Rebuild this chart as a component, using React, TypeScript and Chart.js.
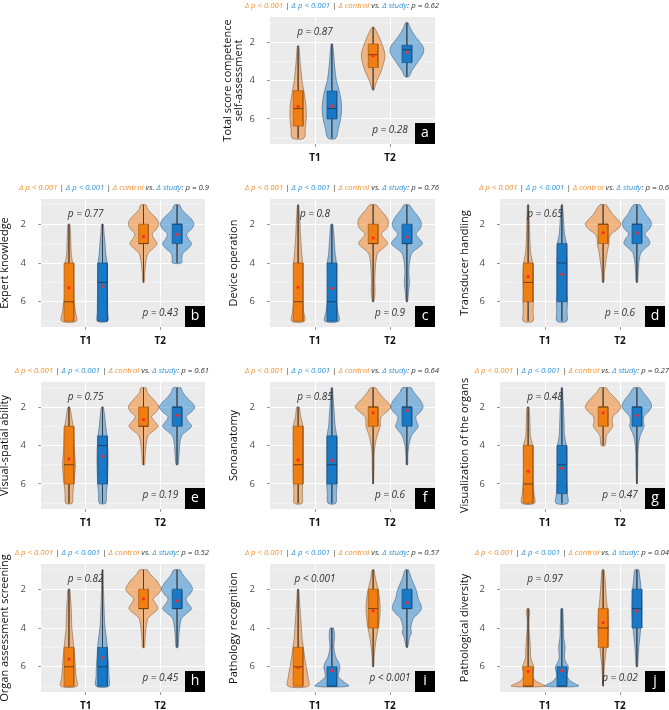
import React, { useEffect, useRef } from 'react';
import { Chart, registerables } from 'chart.js';

Chart.register(...registerables);

const FONT = "'Open Sans', 'DejaVu Sans', sans-serif";
Chart.defaults.font.family = FONT;

// ---------- data ----------
const X_LABELS = ['T1', 'T2'];
const Y_MAJOR = [2, 4, 6];
const Y_MINOR = [1, 3, 5, 7];

const PANEL_IDS = ['a', 'b', 'c', 'd', 'e', 'f', 'g', 'h', 'i', 'j'];
const Y_TITLES: (string | string[])[] = [
  ['Total score competence', 'self-assessment'],
  'Expert knowledge',
  'Device operation',
  'Transducer handling',
  'Visual-spatial ability',
  'Sonoanatomy',
  'Visualization of the organs',
  'Organ assessment screening',
  'Pathology recognition',
  'Pathological diversity',
];
const HEAD_CTRL_P = ['< 0.001', '< 0.001', '< 0.001', '< 0.001', '< 0.001', '< 0.001', '< 0.001', '< 0.001', '< 0.001', '< 0.001'];
const HEAD_STUDY_P = ['< 0.001', '< 0.001', '< 0.001', '< 0.001', '< 0.001', '< 0.001', '< 0.001', '< 0.001', '< 0.001', '< 0.001'];
const HEAD_DIFF_P = ['0.62', '0.9', '0.76', '0.6', '0.61', '0.64', '0.27', '0.52', '0.57', '0.04'];
const T1_P = ['p = 0.87', 'p = 0.77', 'p = 0.8', 'p = 0.65', 'p = 0.75', 'p = 0.85', 'p = 0.48', 'p = 0.82', 'p < 0.001', 'p = 0.97'];
const T2_P = ['p = 0.28', 'p = 0.43', 'p = 0.9', 'p = 0.6', 'p = 0.19', 'p = 0.6', 'p = 0.47', 'p = 0.45', 'p < 0.001', 'p = 0.02'];

// violin profiles: [score, density width]; O = control (orange), B = study (blue)
const A_OT1 = [[2.2, 2], [2.5, 4], [3, 6], [3.5, 9], [4, 12], [4.5, 17], [5, 22], [5.5, 25], [6, 25], [6.5, 22], [7, 18]];
const A_BT1 = [[2.1, 2], [2.5, 5], [3, 7], [3.5, 10], [4, 14], [4.5, 22], [5, 28], [5.5, 30], [6, 27], [6.5, 20], [7, 12]];
const A_OT2 = [[1.23, 3], [1.5, 12], [2, 25], [2.5, 35], [2.8, 36], [3, 34], [3.5, 25], [4, 12], [4.3, 6], [4.5, 2]];
const A_BT2 = [[1.0, 4], [1.25, 10], [1.5, 18], [1.75, 28], [2, 40], [2.25, 50], [2.5, 52], [2.75, 45], [3, 35], [3.25, 25], [3.5, 15], [3.8, 6]];
const A_BOX = [[4.53, 5.46, 6.37, 5.34], [4.55, 5.46, 6.0, 5.32], [2.1, 2.66, 3.33, 2.72], [2.17, 2.4, 3.07, 2.54]];

const B_OT1 = [[2, 3], [2.5, 5], [3, 6], [3.5, 7], [4, 11], [4.5, 12], [5, 9], [5.5, 10], [6, 16], [6.5, 20], [7, 23]];
const B_BT1 = [[2, 3], [2.5, 5], [3, 8], [3.5, 10], [4, 14], [4.5, 15], [5, 15], [5.5, 15], [6, 16], [6.5, 16], [7, 16]];
const B_OT2 = [[1, 8], [1.25, 14], [1.5, 28], [1.75, 42], [2, 47], [2.25, 40], [2.5, 27], [2.75, 33], [3, 42], [3.25, 30], [3.5, 14], [4, 7], [4.5, 4], [5, 2]];
const B_BT2 = [[1, 8], [1.25, 15], [1.5, 30], [1.75, 45], [2, 52], [2.25, 45], [2.5, 30], [2.75, 35], [3, 45], [3.25, 35], [3.5, 18], [3.75, 15], [4, 14]];
const B_BOX = [[4, 6, 7, 5.28], [4, 5, 7, 5.2], [2, 3, 3, 2.64], [2, 2, 3, 2.52]];

const C_OT1 = [[1, 2], [1.5, 4], [2, 6], [2.5, 7], [3, 9], [3.5, 11], [4, 14], [4.5, 13], [5, 12], [5.5, 12], [6, 14], [6.5, 17], [7, 20]];
const C_BT1 = [[2, 3], [2.5, 6], [3, 8], [3.5, 10], [4, 14], [4.5, 13], [5, 12], [5.5, 12], [6, 14], [6.5, 18], [7, 22]];
const C_OT2 = [[1, 10], [1.25, 22], [1.5, 35], [1.75, 45], [2, 47], [2.25, 40], [2.5, 25], [2.75, 35], [3, 45], [3.25, 30], [3.5, 14], [4, 8], [4.5, 6], [5, 5], [5.5, 6], [6, 2]];
const C_BT2 = [[1, 8], [1.25, 18], [1.5, 30], [1.75, 40], [2, 45], [2.25, 40], [2.5, 28], [2.75, 38], [3, 48], [3.25, 32], [3.5, 15], [4, 8], [4.5, 6], [5, 8], [5.5, 5], [6, 2]];
const C_BOX = [[4, 6, 7, 5.25], [4, 6, 7, 5.31], [2, 3, 3, 2.71], [2, 3, 3, 2.66]];

const D_OT1 = [[1, 2], [2, 4], [3, 6], [3.5, 8], [4, 14], [4.5, 16], [5, 16], [5.5, 15], [6, 16], [6.5, 15], [7, 15]];
const D_BT1 = [[1, 2], [1.5, 4], [2, 6], [2.5, 8], [3, 14], [3.5, 15], [4, 16], [4.5, 16], [5, 16], [5.5, 16], [6, 17], [6.5, 16], [7, 15]];
const D_OT2 = [[1, 10], [1.5, 30], [1.75, 45], [2, 55], [2.25, 45], [2.5, 25], [2.75, 18], [3, 18], [3.25, 15], [3.5, 12], [4, 8], [4.5, 4], [5, 2]];
const D_BT2 = [[1, 10], [1.5, 28], [1.75, 40], [2, 45], [2.25, 38], [2.5, 25], [2.75, 35], [3, 40], [3.25, 25], [3.5, 12], [4, 6], [4.5, 4], [5, 2]];
const D_BOX = [[4, 5, 6, 4.7], [3, 4, 6, 4.58], [2, 2, 3, 2.43], [2, 2, 3, 2.45]];

const E_OT1 = [[2, 3], [2.5, 8], [3, 13], [3.5, 15], [4, 16], [4.5, 18], [5, 20], [5.5, 18], [6, 15], [6.5, 12], [7, 10]];
const E_BT1 = [[2, 3], [2.5, 7], [3, 10], [3.5, 14], [4, 16], [4.5, 17], [5, 17], [5.5, 16], [6, 15], [6.5, 12], [7, 10]];
const E_OT2 = [[1, 8], [1.25, 12], [1.5, 25], [1.75, 38], [2, 47], [2.25, 40], [2.5, 25], [2.75, 35], [3, 45], [3.25, 30], [3.5, 14], [4, 8], [4.5, 5], [5, 3]];
const E_BT2 = [[1, 12], [1.25, 18], [1.5, 30], [1.75, 45], [2, 55], [2.25, 45], [2.5, 28], [2.75, 35], [3, 45], [3.25, 30], [3.5, 14], [4, 8], [4.5, 6], [5, 3]];
const E_BOX = [[3, 5, 6, 4.7], [3.5, 4, 6, 4.57], [2, 3, 3, 2.66], [2, 2, 3, 2.43]];

const F_OT1 = [[2, 4], [2.5, 8], [3, 15], [3.5, 15], [4, 15], [4.5, 15], [5, 15], [5.5, 15], [6, 14], [6.5, 13], [7, 12]];
const F_BT1 = [[1, 2], [1.5, 4], [2, 6], [2.5, 8], [3, 10], [3.5, 15], [4, 16], [4.5, 16], [5, 16], [5.5, 16], [6, 16], [6.5, 14], [7, 12]];
const F_OT2 = [[1, 8], [1.25, 18], [1.5, 30], [1.75, 45], [2, 55], [2.25, 42], [2.5, 25], [2.75, 22], [3, 22], [3.5, 12], [4, 6], [4.5, 3], [5, 3], [5.5, 2], [6, 1]];
const F_BT2 = [[1, 14], [1.25, 22], [1.5, 35], [1.75, 45], [2, 50], [2.25, 42], [2.5, 28], [2.75, 30], [3, 35], [3.25, 25], [3.5, 14], [4, 6], [4.5, 3], [5, 2]];
const F_BOX = [[3, 5, 6, 4.75], [3.5, 5, 6, 4.78], [2, 2, 3, 2.3], [2, 2, 3, 2.17]];

const G_OT1 = [[2, 3], [2.5, 5], [3, 6], [3.5, 7], [4, 14], [4.5, 14], [5, 12], [5.5, 13], [6, 15], [6.5, 18], [7, 20]];
const G_BT1 = [[1, 2], [1.5, 3], [2, 5], [2.5, 6], [3, 7], [3.5, 8], [4, 14], [4.5, 15], [5, 15], [5.5, 15], [6, 16], [6.5, 17], [7, 18]];
const G_OT2 = [[1, 10], [1.25, 20], [1.5, 35], [1.75, 48], [2, 55], [2.25, 45], [2.5, 30], [2.75, 28], [3, 30], [3.25, 20], [3.5, 10], [4, 6]];
const G_BT2 = [[1, 10], [1.25, 20], [1.5, 32], [1.75, 42], [2, 45], [2.25, 35], [2.5, 22], [2.75, 20], [3, 22], [3.5, 10], [4, 5], [4.5, 3], [5, 3], [5.5, 2], [6, 1]];
const G_BOX = [[4, 6, 7, 5.34], [4, 5, 6.5, 5.18], [2, 2, 3, 2.3], [2, 2, 3, 2.43]];

const H_OT1 = [[2, 3], [2.5, 5], [3, 7], [3.5, 8], [4, 9], [4.5, 12], [5, 15], [5.5, 18], [6, 20], [6.5, 22], [7, 25]];
const H_BT1 = [[1, 2], [2, 3], [3, 5], [3.5, 6], [4, 8], [4.5, 12], [5, 15], [5.5, 17], [6, 19], [6.5, 20], [7, 20]];
const H_OT2 = [[1, 12], [1.25, 22], [1.5, 38], [1.75, 48], [2, 55], [2.25, 45], [2.5, 30], [2.75, 38], [3, 45], [3.25, 30], [3.5, 14], [4, 8], [4.5, 5], [5, 3]];
const H_BT2 = [[1, 10], [1.25, 18], [1.5, 30], [1.75, 42], [2, 48], [2.25, 40], [2.5, 28], [2.75, 35], [3, 45], [3.25, 30], [3.5, 14], [4, 8], [4.5, 5], [5, 3]];
const H_BOX = [[5, 6, 7, 5.6], [5, 6, 7, 5.53], [2, 3, 3, 2.5], [2, 3, 3, 2.6]];

const I_OT1 = [[2, 2], [2.5, 4], [3, 6], [3.5, 8], [4, 10], [4.5, 12], [5, 16], [5.5, 20], [6, 25], [6.5, 30], [7, 32]];
const I_BT1 = [[4, 5], [4.25, 8], [4.5, 8], [5, 6], [5.5, 12], [5.75, 20], [6, 25], [6.25, 22], [6.5, 20], [6.75, 35], [7, 52]];
const I_OT2 = [[1, 3], [1.5, 8], [2, 15], [2.5, 20], [3, 22], [3.5, 20], [4, 16], [4.5, 10], [5, 6], [5.5, 3], [6, 2]];
const I_BT2 = [[1, 5], [1.5, 15], [2, 28], [2.5, 35], [2.75, 42], [3, 45], [3.25, 35], [3.5, 20], [4, 12], [4.25, 14], [4.5, 8], [5, 2]];
const I_BOX = [[5, 6, 7, 6.05], [6, 7, 7, 6.2], [2, 3, 4, 3.12], [2, 3, 3, 2.69]];

const J_OT1 = [[3, 3], [3.25, 5], [3.5, 3], [4, 3], [4.5, 5], [5, 7], [5.5, 8], [5.75, 12], [6, 18], [6.25, 15], [6.5, 14], [6.75, 25], [7, 52]];
const J_BT1 = [[3, 3], [3.5, 4], [4, 5], [4.5, 6], [5, 10], [5.5, 8], [5.75, 12], [6, 20], [6.25, 18], [6.5, 16], [6.75, 28], [7, 52]];
const J_OT2 = [[1, 3], [1.5, 6], [2, 8], [2.5, 10], [3, 13], [3.5, 15], [4, 16], [4.5, 14], [5, 10], [5.5, 7], [6, 4], [6.5, 2], [7, 1]];
const J_BT2 = [[1, 6], [1.5, 10], [2, 13], [2.5, 14], [3, 15], [3.5, 14], [4, 12], [4.5, 9], [5, 6], [5.5, 4], [6, 2]];
const J_BOX = [[6, 7, 7, 6.24], [6, 7, 7, 6.2], [3, 4, 5, 3.72], [2, 3, 4, 3.12]];

const VIOLINS = [
  [A_OT1, A_BT1, A_OT2, A_BT2], [B_OT1, B_BT1, B_OT2, B_BT2], [C_OT1, C_BT1, C_OT2, C_BT2],
  [D_OT1, D_BT1, D_OT2, D_BT2], [E_OT1, E_BT1, E_OT2, E_BT2], [F_OT1, F_BT1, F_OT2, F_BT2],
  [G_OT1, G_BT1, G_OT2, G_BT2], [H_OT1, H_BT1, H_OT2, H_BT2], [I_OT1, I_BT1, I_OT2, I_BT2],
  [J_OT1, J_BT1, J_OT2, J_BT2],
];
const BOXES = [A_BOX, B_BOX, C_BOX, D_BOX, E_BOX, F_BOX, G_BOX, H_BOX, I_BOX, J_BOX];

// ---------- layout / style ----------
const W_UNIT = 1 / 231; // density width -> x units
const DODGE = [-0.225, 0.225];
const BOX_HALF = 0.065;
const P_TEXT_Y = [1.47, 6.57];

const PANEL_COL = [1, 0, 1, 2, 0, 1, 2, 0, 1, 2];
const PANEL_ROW = [0, 1, 1, 1, 2, 2, 2, 3, 3, 3];
const COL_L = [41, 270, 500];
const COL_R = [209, 439, 669];
const COL_CX = [0, 222, 446];
const ROW_T = [17, 199, 382, 564];
const ROW_B = [144, 327, 509, 692];
const YTITLE_PAD = [1, 0, 6.5, 13.5, 0, 6.5, 13.5, 0, 6.5, 13.5];
const PT = 22;
const XH = 22;

const ORANGE_TXT = '#F2912E';
const BLUE_TXT = '#2F93DA';
const DARK_TXT = '#333333';
const VIO_FILL = ['rgba(242,128,28,0.5)', 'rgba(35,132,208,0.5)'];
const VIO_LINE = ['rgba(120,85,55,0.75)', 'rgba(55,85,115,0.75)'];
const BOX_FILL = ['#F07E10', '#1879C6'];
const BOX_LINE = ['#A35A17', '#1D5283'];
const MED_LINE = ['#6B3A10', '#173F63'];
const WHISK = 'rgba(55,55,55,0.85)';
const MEAN_COL = '#FF2B2B';

function buildDatasets(idx: number) {
  const ds: any[] = [];
  VIOLINS[idx].forEach((prof: number[][], k: number) => {
    const g = k % 2;
    const t = Math.floor(k / 2) + 1;
    const cx = t + DODGE[g];
    const right = prof.map(([y, w]) => ({ x: cx + w * W_UNIT, y }));
    const left = prof.slice().reverse().map(([y, w]) => ({ x: cx - w * W_UNIT, y }));
    ds.push({
      data: [...right, ...left, right[0]], fill: 'shape', backgroundColor: VIO_FILL[g],
      borderColor: VIO_LINE[g], borderWidth: 0.7, pointRadius: 0, tension: 0.3, order: 5,
    });
    ds.push({
      data: [{ x: cx, y: prof[0][0] }, { x: cx, y: prof[prof.length - 1][0] }],
      borderColor: WHISK, borderWidth: 0.7, pointRadius: 0, fill: false, order: 4,
    });
    const [q1, med, q3, mean] = BOXES[idx][k];
    ds.push({
      data: [
        { x: cx - BOX_HALF, y: q1 }, { x: cx + BOX_HALF, y: q1 }, { x: cx + BOX_HALF, y: q3 },
        { x: cx - BOX_HALF, y: q3 }, { x: cx - BOX_HALF, y: q1 },
      ],
      fill: 'shape', backgroundColor: BOX_FILL[g], borderColor: BOX_LINE[g], borderWidth: 0.7,
      pointRadius: 0, tension: 0, order: 3,
    });
    ds.push({
      data: [{ x: cx - BOX_HALF, y: med }, { x: cx + BOX_HALF, y: med }],
      borderColor: MED_LINE[g], borderWidth: 0.9, pointRadius: 0, fill: false, order: 2,
    });
    ds.push({
      data: [{ x: cx, y: mean }], showLine: false, pointRadius: 1.6, pointBackgroundColor: MEAN_COL,
      pointBorderWidth: 0, order: 1,
    });
  });
  return ds;
}

const bgPlugin = {
  id: 'panelBg',
  beforeDraw(chart: any) {
    const { ctx, chartArea: a } = chart;
    ctx.save();
    ctx.fillStyle = '#EBEBEB';
    ctx.fillRect(a.left, a.top, a.right - a.left, a.bottom - a.top);
    ctx.restore();
  },
};

function makeAnnot(idx: number) {
  return {
    id: 'annot',
    afterDatasetsDraw(chart: any) {
      const { ctx, chartArea: a, scales } = chart;
      ctx.save();
      ctx.font = `italic 10px ${FONT}`;
      ctx.fillStyle = DARK_TXT;
      ctx.textAlign = 'center';
      ctx.textBaseline = 'middle';
      ctx.fillText(T1_P[idx], scales.x.getPixelForValue(1), scales.y.getPixelForValue(P_TEXT_Y[0]));
      ctx.fillText(T2_P[idx], scales.x.getPixelForValue(2), scales.y.getPixelForValue(P_TEXT_Y[1]));
      ctx.fillStyle = '#000';
      ctx.fillRect(a.right - 20, a.bottom - 21, 20, 21);
      ctx.fillStyle = '#fff';
      ctx.font = `14px ${FONT}`;
      ctx.fillText(PANEL_IDS[idx], a.right - 10, a.bottom - 11);
      ctx.restore();
    },
  };
}

function Panel({ idx }: { idx: number }) {
  const ref = useRef<HTMLCanvasElement | null>(null);
  const col = PANEL_COL[idx];
  const row = PANEL_ROW[idx];
  const L = COL_L[col], R = COL_R[col], cxp = COL_CX[col];
  const T = ROW_T[row], B = ROW_B[row];
  const width = R - cxp;
  const height = PT + (B - T) + XH;
  const YW = L - cxp;

  useEffect(() => {
    const chart = new Chart(ref.current as HTMLCanvasElement, {
      type: 'line',
      data: { datasets: buildDatasets(idx) },
      options: {
        animation: false,
        responsive: false,
        events: [],
        layout: { padding: { top: PT, right: 0, left: 0, bottom: 0 } },
        plugins: { legend: { display: false }, tooltip: { enabled: false }, title: { display: false } },
        scales: {
          x: {
            type: 'linear', min: 0.4, max: 2.6, bounds: 'data',
            afterBuildTicks: (s: any) => { s.ticks = X_LABELS.map((_, i) => ({ value: i + 1 })); },
            afterFit: (s: any) => { s.height = XH; },
            ticks: {
              autoSkip: false, maxRotation: 0, padding: 5, color: '#111111',
              font: { size: 10, weight: 'bold' },
              callback: (v: any) => X_LABELS[Math.round(v) - 1],
            },
            grid: { color: '#FFFFFF', lineWidth: 1, tickLength: 3, tickColor: '#555', tickWidth: 0.6 },
            border: { display: false },
          },
          y: {
            type: 'linear', reverse: true, min: 0.7, max: 7.3, bounds: 'data',
            afterBuildTicks: (s: any) => {
              s.ticks = [...Y_MINOR, ...Y_MAJOR].sort((p, q) => p - q).map((v) => ({ value: v }));
            },
            afterFit: (s: any) => { s.width = YW; },
            ticks: {
              autoSkip: false, padding: 12, color: '#4D4D4D', font: { size: 9.5 },
              callback: (v: any) => (Y_MAJOR.includes(v) ? String(v) : ''),
            },
            grid: {
              color: (c: any) => (c.tick && Y_MAJOR.includes(c.tick.value) ? '#FFFFFF' : 'rgba(255,255,255,0.75)'),
              lineWidth: (c: any) => (c.tick && Y_MAJOR.includes(c.tick.value) ? 1 : 0.5),
              tickLength: 3,
              tickColor: (c: any) => (c.tick && Y_MAJOR.includes(c.tick.value) ? '#555' : 'rgba(0,0,0,0)'),
              tickWidth: 0.6,
            },
            border: { display: false },
            title: {
              display: true, text: Y_TITLES[idx] as any, color: '#111111',
              font: { size: 11, lineHeight: 0.95 }, padding: { top: YTITLE_PAD[idx], bottom: 0 },
            },
          },
        },
      } as any,
      plugins: [bgPlugin, makeAnnot(idx)],
    });
    return () => chart.destroy();
  }, [idx]);

  return (
    <>
      <canvas
        ref={ref}
        width={width}
        height={height}
        style={{ position: 'absolute', left: cxp, top: T - PT, width, height }}
      />
      <div
        style={{
          position: 'absolute', right: 669 - R, top: T - 18, height: 12, lineHeight: '12px',
          fontFamily: FONT, fontStyle: 'italic', fontSize: 7.8, whiteSpace: 'nowrap', color: DARK_TXT,
        }}
      >
        <span style={{ color: ORANGE_TXT }}>Δ p {HEAD_CTRL_P[idx]}</span>
        <span> | </span>
        <span style={{ color: BLUE_TXT }}>Δ p {HEAD_STUDY_P[idx]}</span>
        <span> | </span>
        <span style={{ color: ORANGE_TXT }}>Δ control</span>
        <span> vs. </span>
        <span style={{ color: BLUE_TXT }}>Δ study</span>
        <span>: p = {HEAD_DIFF_P[idx]}</span>
      </div>
    </>
  );
}

export default function App() {
  return (
    <div
      style={{
        position: 'absolute', left: 0, top: 0, width: 669, height: 710, overflow: 'hidden',
        background: '#FFFFFF',
      }}
    >
      {PANEL_IDS.map((_, i) => (
        <Panel key={i} idx={i} />
      ))}
    </div>
  );
}
